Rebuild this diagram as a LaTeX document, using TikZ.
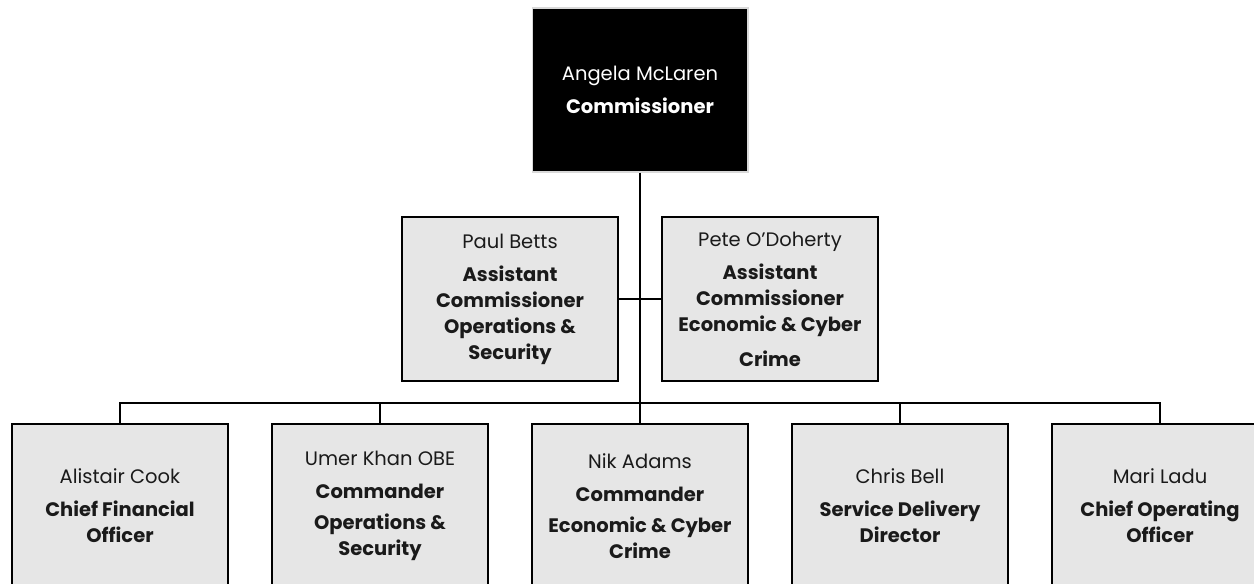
\documentclass[tikz,border=0pt]{standalone}
\usepackage{fontspec}
\setmainfont{Poppins}
\usepackage{tikz}

\definecolor{boxgrey}{HTML}{E6E6E6}
\definecolor{namegrey}{HTML}{1A1A1A}

\tikzset{
  post/.style={draw=black, line width=1.1pt, fill=boxgrey, minimum width=4.32cm,
    minimum height=3.28cm, align=center, inner sep=2pt, text=namegrey,
    font=\fontsize{11.1}{14.8}\selectfont},
  chief/.style={post, fill=black, draw=black!15, line width=0.6pt, text=white},
  link/.style={draw=black, line width=1.1pt}
}
% name line, then a small gap before the bold title lines
\newcommand{\who}[1]{#1\\[4pt]}
\newcommand{\ttl}[1]{\textbf{#1}}

\begin{document}
\begin{tikzpicture}[x=0.02cm, y=-0.02cm]
                \useasboundingbox (0,0) rectangle (1254,584);
                \node [chief] (comm) at (640,90) {\who{Angela McLaren}\ttl{Commissioner}};
                \node [post] (betts) at (510,299) {\who{Paul Betts}\ttl{Assistant}\\\ttl{Commissioner}\\\ttl{Operations \&}\\\ttl{Security}};
                \node [post] (odoherty) at (770,299) {\who{Pete O'Doherty}\ttl{Assistant}\\\ttl{Commissioner}\\\ttl{Economic \& Cyber}\\[5pt]\ttl{Crime}};
                \node [post] (cook) at (120,506) {\who{Alistair Cook}\ttl{Chief Financial}\\\ttl{Officer}};
                \node [post] (khan) at (380,506) {\who{Umer Khan OBE}\ttl{Commander}\\[3pt]\ttl{Operations \&}\\\ttl{Security}};
                \node [post] (adams) at (640,506) {\who{Nik Adams}\ttl{Commander}\\[3pt]\ttl{Economic \& Cyber}\\\ttl{Crime}};
                \node [post] (bell) at (900,506) {\who{Chris Bell}\ttl{Service Delivery}\\\ttl{Director}};
                \node [post] (ladu) at (1160,506) {\who{Mari Ladu}\ttl{Chief Operating}\\\ttl{Officer}};
                \coordinate (bar) at (640,403);
                \draw [link] (comm.south) -- (bar);
                \draw [link] (betts.east) -- (odoherty.west);
                \draw [link] (bar) -| (cook.north);
                \draw [link] (bar) -| (khan.north);
                \draw [link] (bar) -- (adams.north);
                \draw [link] (bar) -| (bell.north);
                \draw [link] (bar) -| (ladu.north);
\end{tikzpicture}
\end{document}
